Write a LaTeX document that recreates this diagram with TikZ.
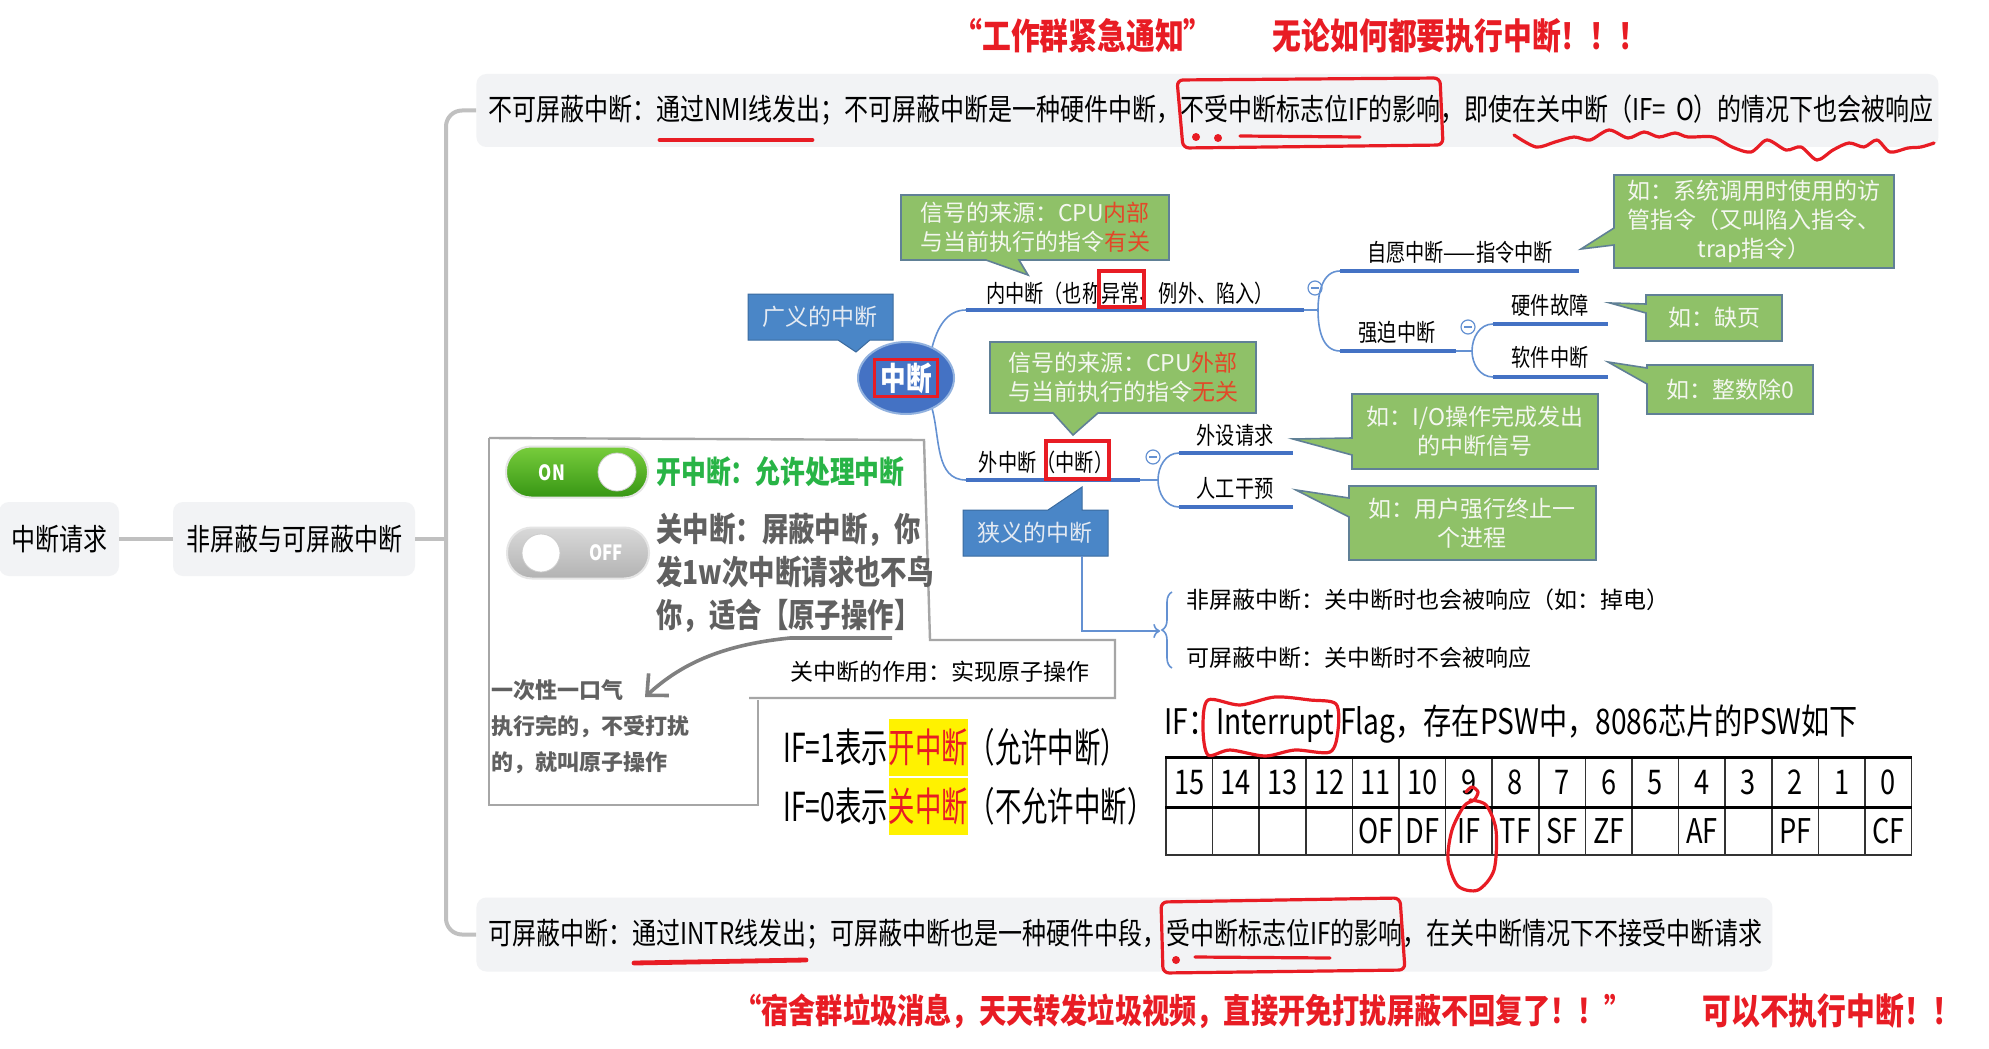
\documentclass[tikz,border=0pt]{standalone}
\usepackage{fontspec}
\setmainfont{Noto Sans CJK SC}[FakeStretch=0.8]
\newfontfamily\wide{Noto Sans CJK SC}
\newfontfamily\narrow{Noto Sans CJK SC}[FakeStretch=0.66]
\usetikzlibrary{shapes.geometric,decorations.pathreplacing,arrows.meta}
\definecolor{boxgray}{RGB}{242,243,245}
\definecolor{linkgray}{RGB}{192,192,192}
\definecolor{mapblue}{RGB}{68,114,196}
\definecolor{linkblue}{RGB}{100,145,210}
\definecolor{tipgreen}{RGB}{143,193,104}
\definecolor{tipedge}{RGB}{96,128,150}
\definecolor{tiptext}{RGB}{244,247,240}
\definecolor{tipred}{RGB}{226,72,40}
\definecolor{tagblue}{RGB}{74,134,199}
\definecolor{tagtext}{RGB}{228,234,242}
\definecolor{pen}{RGB}{232,28,36}
\definecolor{okgreen}{RGB}{40,180,70}
\definecolor{inkgray}{RGB}{96,96,96}
\begin{document}
\begin{tikzpicture}[x=0.5pt,y=-0.5pt,
    graybox/.style={fill=boxgray,rounded corners=5pt,inner xsep=6pt,font=\fontsize{15pt}{18pt}\selectfont},
    link/.style={draw=linkgray,line width=2pt},
    shout/.style={text=pen,font=\fontsize{18pt}{20pt}\selectfont\bfseries},
    maplbl/.style={inner sep=1pt,font=\fontsize{12pt}{14pt}\selectfont},
    mapline/.style={draw=mapblue,line width=2.2pt},
    twig/.style={draw=linkblue,line width=0.8pt},
    fold/.style={circle,draw=linkblue,line width=0.6pt,minimum size=7pt,inner sep=0pt,
      path picture={\draw[linkblue,line width=0.6pt] ([xshift=-1.8pt]path picture bounding box.center) -- ([xshift=1.8pt]path picture bounding box.center);}},
    greentip/.style={fill=tipgreen,draw=tipedge,line width=0.8pt},
    tiptxt/.style={text=tiptext,align=center,font=\wide\fontsize{11.5pt}{14.5pt}\selectfont},
    bluetag/.style={fill=tagblue,draw=tagblue!80!black,line width=0.5pt},
    tagtxt/.style={text=tagtext,font=\wide\fontsize{11.5pt}{14pt}\selectfont},
    frame/.style={draw=gray!70,line width=1.2pt},
    toggle/.style={rounded corners=12.5pt,minimum width=71pt,minimum height=25.5pt,draw=white!80!gray,line width=1pt},
    knob/.style={circle,fill=white,draw=gray!40,minimum size=19pt,inner sep=0pt},
    switchtxt/.style={text=white,font=\fontsize{10.5pt}{12pt}\selectfont\bfseries},
    ifl/.style={inner xsep=0pt,inner ysep=0pt,minimum height=28.5pt,font=\narrow\fontsize{20pt}{22pt}\selectfont},
    cell/.style={draw=black!80,line width=0.8pt,minimum width=23.3pt,minimum height=24.25pt,inner sep=0pt,font=\fontsize{17pt}{18pt}\selectfont},
    hand/.style={draw=inkgray!80,line width=1.8pt,>={Straight Barb[length=8pt,width=15pt]}},
    ink/.style={draw=pen,line width=1.6pt,line cap=round,line join=round}
  ]
  \fill[white] (0,0) rectangle (1989,1048);
  \useasboundingbox (0,0) rectangle (1989,1048);

  \node[graybox,minimum width=59pt,minimum height=37pt] (req) at (59,539) {中断请求};
  \node[graybox,minimum width=121pt,minimum height=37pt] (kind) at (294,539) {非屏蔽与可屏蔽中断};
  \node[graybox,anchor=west,text width=719pt,minimum height=36.5pt] (nmi) at (476,110.5) {不可屏蔽中断：通过NMI线发出；不可屏蔽中断是一种硬件中断，不受中断标志位IF的影响，即使在关中断（IF=~O）的情况下也会被响应};
  \node[graybox,anchor=west,text width=636pt,minimum height=37pt] (intr) at (476,934.5) {可屏蔽中断：通过INTR线发出；可屏蔽中断也是一种硬件中段，受中断标志位IF的影响，在关中断情况下不接受中断请求};
  \coordinate (spine) at (446,539);
  \draw[link] (req) -- (kind);
  \draw[link] (kind) -- (spine);
  \draw[link,rounded corners=8pt] (spine) |- (nmi.west);
  \draw[link,rounded corners=8pt] (spine) |- (intr.west);

  \node[shout] (work) at (1083,36) {“工作群紧急通知”};
  \node[shout] (must) at (1460,36) {无论如何都要执行中断！！！};
  \node[shout,font=\fontsize{17pt}{19pt}\selectfont\bfseries] (dorm) at (1183,1011) {“宿舍群垃圾消息，天天转发垃圾视频，直接开免打扰屏蔽不回复了！！”};
  \node[shout] (may) at (1832,1011) {可以不执行中断！！};

  % marks on the two boxes
  \draw[ink,line width=2.4pt] (660,140) -- (812,140);
  \draw[ink,rounded corners=3pt] (1177,80) -- (1440,78) -- (1443,145) -- (1183,148) -- cycle;
  \fill[pen] (1196,137) circle (2pt) (1218,138) circle (2pt);
  \draw[ink] (1240,136) -- (1360,137);
  \draw[ink] plot[smooth] coordinates {(1514,135) (1536,147) (1555,142) (1574,137) (1590,140) (1609,130) (1628,138) (1644,132) (1659,137) (1675,133) (1688,137) (1713,137) (1732,147) (1751,152) (1767,140) (1786,150) (1801,147) (1817,160) (1833,150) (1849,143) (1864,147) (1877,140) (1890,152) (1908,148) (1921,147) (1934,143)};
  \draw[ink,line width=2.4pt] (634,963) -- (806,960);
  \draw[ink,rounded corners=3pt] (1161,902) -- (1400,898) -- (1405,970) -- (1163,973) -- cycle;
  \fill[pen] (1176,960) circle (2pt);
  \draw[ink] (1195,957) -- (1330,958);

  % mind map
  \node[ellipse,fill=mapblue,draw=linkblue!70,line width=1pt,minimum width=48pt,minimum height=36pt] (root) at (906,378) {};
  \node[draw=pen,line width=1.6pt,inner xsep=3pt,inner ysep=1.5pt,text=white,font=\fontsize{16pt}{17pt}\selectfont\bfseries] (rootlbl) at (root) {中断};

  \node[maplbl] (nei) at (1130,293) {内中断（也称异常、例外、陷入）};
  \draw[mapline] (966,310) coordinate (neiL) -- (1304,310) coordinate (neiR);
  \draw[draw=pen,line width=1.6pt] (1099,271) rectangle (1144,307);
  \node[maplbl] (wai) at (1046,462) {外中断（中断）};
  \draw[mapline] (966,480) coordinate (waiL) -- (1140,480) coordinate (waiR);
  \draw[draw=pen,line width=1.6pt] (1046,441) rectangle (1109,479);
  \draw[twig] (root.50) to[out=75,in=180] (neiL);
  \draw[twig] (root.-50) to[out=-75,in=180] (waiL);

  \node[maplbl] (zy) at (1460,252) {自愿中断——指令中断};
  \draw[mapline] (1340,271) coordinate (zyL) -- (1579,271) coordinate (zyR);
  \node[maplbl] (qp) at (1397,332) {强迫中断};
  \draw[mapline] (1340,351) coordinate (qpL) -- (1456,351) coordinate (qpR);
  \node[maplbl] (yj) at (1550,305) {硬件故障};
  \draw[mapline] (1493,324) coordinate (yjL) -- (1608,324) coordinate (yjR);
  \node[maplbl] (rj) at (1550,357) {软件中断};
  \draw[mapline] (1493,377) coordinate (rjL) -- (1608,377) coordinate (rjR);
  \node[maplbl] (ws) at (1235,435) {外设请求};
  \draw[mapline] (1179,453) coordinate (wsL) -- (1293,453) coordinate (wsR);
  \node[maplbl] (rg) at (1235,488) {人工干预};
  \draw[mapline] (1179,507) coordinate (rgL) -- (1293,507) coordinate (rgR);

  \draw[twig] (neiR) -- ++(14,0) coordinate (neiK);
  \draw[twig] (neiK) to[out=90,in=180] (zyL);
  \draw[twig] (neiK) to[out=-90,in=180] (qpL);
  \draw[twig] (qpR) -- ++(16,0) coordinate (qpK);
  \draw[twig] (qpK) to[out=90,in=180] (yjL);
  \draw[twig] (qpK) to[out=-90,in=180] (rjL);
  \draw[twig] (waiR) -- ++(18,0) coordinate (waiK);
  \draw[twig] (waiK) to[out=90,in=180] (wsL);
  \draw[twig] (waiK) to[out=-90,in=180] (rgL);
  \node[fold] (f1) at (1315,288) {};
  \node[fold] (f2) at (1468,327) {};
  \node[fold] (f3) at (1153,457) {};

  \draw[bluetag] (748,294) -- (893,294) -- (893,340) -- (870,340) -- (856,352) -- (838,340) -- (748,340) -- cycle;
  \node[tagtxt] (gy) at (820,317) {广义的中断};
  \draw[bluetag] (963,510) -- (1048,510) -- (1082,487) -- (1082,510) -- (1108,510) -- (1108,556) -- (963,556) -- cycle;
  \node[tagtxt] (xy) at (1035,533) {狭义的中断};

  \draw[greentip] (901,195) -- (1169,195) -- (1169,260) -- (1019,260) -- (1028,275) -- (986,260) -- (901,260) -- cycle;
  \node[tiptxt] (src1) at (1035,227.5) {信号的来源：CPU\textcolor{tipred}{内部}\\与当前执行的指令\textcolor{tipred}{有关}};
  \draw[greentip] (990,342) -- (1256,342) -- (1256,413) -- (1098,413) -- (1073,435) -- (1053,413) -- (990,413) -- cycle;
  \node[tiptxt] (src2) at (1123,377.5) {信号的来源：CPU\textcolor{tipred}{外部}\\与当前执行的指令\textcolor{tipred}{无关}};
  \draw[greentip] (1614,175) -- (1894,175) -- (1894,268) -- (1614,268) -- (1614,245) -- (1581,249) -- (1614,228) -- cycle;
  \node[tiptxt] (eg1) at (1754,221.5) {如：系统调用时使用的访\\管指令（又叫陷入指令、\\trap指令）};
  \draw[greentip] (1646,295) -- (1782,295) -- (1782,341) -- (1646,341) -- (1646,313) -- (1610,303) -- (1646,304) -- cycle;
  \node[tiptxt] (eg2) at (1714,318) {如：缺页};
  \draw[greentip] (1647,365) -- (1813,365) -- (1813,414) -- (1647,414) -- (1647,384) -- (1608,362) -- (1647,368) -- cycle;
  \node[tiptxt] (eg3) at (1730,389.5) {如：整数除0};
  \draw[greentip] (1352,394) -- (1598,394) -- (1598,469) -- (1352,469) -- (1352,455) -- (1293,439) -- (1352,438) -- cycle;
  \node[tiptxt] (eg4) at (1475,431.5) {如：I/O操作完成发出\\的中断信号};
  \draw[greentip] (1349,486) -- (1596,486) -- (1596,560) -- (1349,560) -- (1349,517) -- (1296,490) -- (1349,498) -- cycle;
  \node[tiptxt] (eg5) at (1472,523) {如：用户强行终止一\\个进程};

  % narrow sense: two kinds
  \coordinate (xyfoot) at (1082,556);
  \coordinate (brc) at (1160,631);
  \draw[twig,->] (xyfoot) |- (brc);
  \draw[twig,decorate,decoration={brace,amplitude=5pt}] (1172,668) -- (1172,592);
  \node[anchor=west,font=\wide\fontsize{11.5pt}{14pt}\selectfont] (nm) at (1179,600) {非屏蔽中断：关中断时也会被响应（如：掉电）};
  \node[anchor=west,font=\wide\fontsize{11.5pt}{14pt}\selectfont] (mk) at (1179,658) {可屏蔽中断：关中断时不会被响应};

  % switch panel
  \draw[frame] (489,438) -- (924,440) -- (930,640) -- (1115,640) -- (1115,698) -- (749,698);
  \draw[frame] (758,700) -- (758,805) -- (489,805) -- (489,438);
  \node[toggle,top color={rgb,255:red,120;green,205;blue,60},bottom color={rgb,255:red,55;green,150;blue,20}] (on) at (577,472) {};
  \node[knob] (onk) at (617,472) {};
  \node[switchtxt] (ontxt) at (552,473) {ON};
  \node[toggle,top color=gray!30,bottom color=gray!60] (off) at (578,553) {};
  \node[knob] (offk) at (541,553) {};
  \node[switchtxt] (offtxt) at (606,553) {OFF};
  \node[anchor=west,inner sep=0pt,text=okgreen,font=\fontsize{15.5pt}{18pt}\selectfont\bfseries] (open) at (656,472) {开中断：允许处理中断};
  \node[anchor=west,inner sep=0pt,align=left,text=inkgray,font=\fontsize{16.5pt}{21.5pt}\selectfont\bfseries] (shut) at (656,573) {关中断：屏蔽中断，你\\发1w次中断请求也不鸟\\你，适合【原子操作】};
  \coordinate (hintA) at (892,638);
  \coordinate (hintB) at (645,697);
  \draw[hand,->] (hintA) -- (790,638) .. controls (720,645) and (680,665) .. (hintB);
  \node[anchor=west,inner sep=0pt,align=left,text=inkgray,font=\wide\fontsize{11pt}{18pt}\selectfont\bfseries] (atom) at (491,727) {一次性一口气\\执行完的，不受打扰\\的，就叫原子操作};
  \node[font=\wide\fontsize{11.5pt}{14pt}\selectfont] (use) at (940,672) {关中断的作用：实现原子操作};

  \node[ifl,anchor=west] (if1) at (783,747) {IF=1表示};
  \node[ifl,anchor=west,fill=yellow,text=pen] (if1h) at (if1.east) {开中断};
  \node[ifl,anchor=west] (if1t) at (if1h.east) {（允许中断）};
  \node[ifl,anchor=west] (if0) at (783,806) {IF=0表示};
  \node[ifl,anchor=west,fill=yellow,text=pen] (if0h) at (if0.east) {关中断};
  \node[ifl,anchor=west] (if0t) at (if0h.east) {（不允许中断）};

  % PSW
  \node[anchor=west,inner sep=0pt,font=\fontsize{17.6pt}{19pt}\selectfont] (flag) at (1164,724) {IF：Interrupt Flag，存在PSW中，8086芯片的PSW如下};
  \foreach \b [count=\i from 0] in {15,14,...,0}
    \node[cell] (bit\b) at ({1189.3+46.6*\i},782.25) {\b};
  \foreach \f [count=\i from 0] in {{},{},{},{},OF,DF,IF,TF,SF,ZF,{},AF,{},PF,{},CF}
    \node[cell] (low\i) at ({1189.3+46.6*\i},830.75) {\f};
  \draw[line width=1.6pt] (bit15.north west) -- (bit0.north east);
  \draw[line width=1.6pt] (bit15.south west) -- (bit0.south east);
  \draw[ink] plot[smooth cycle] coordinates {(1208,700) (1240,705) (1275,697) (1310,700) (1336,704) (1338,730) (1330,752) (1295,750) (1265,756) (1230,750) (1208,755) (1203,728)};
  \draw[ink] plot[smooth] coordinates {(1466,792) (1472,787) (1478,792) (1474,800) (1464,806) (1452,830) (1448,860) (1458,886) (1478,890) (1494,870) (1496,830) (1486,805) (1470,800)};
\end{tikzpicture}
\end{document}
